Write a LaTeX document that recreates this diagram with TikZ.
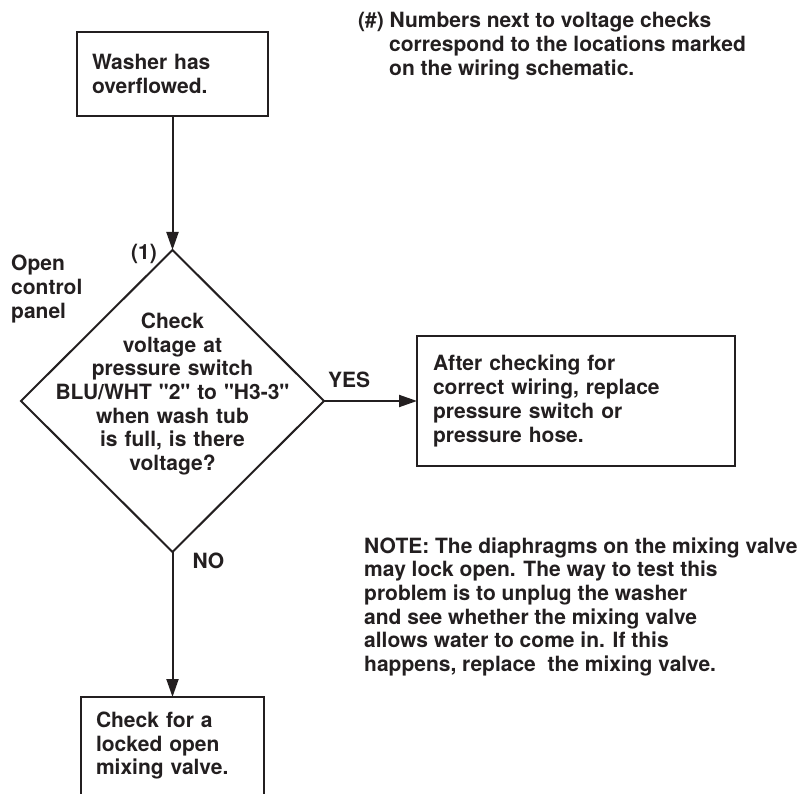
\documentclass[tikz,border=0pt]{standalone}
\usepackage{fontspec}
\setmainfont{TeX Gyre Heros}[Ligatures=TeXOff]
\usetikzlibrary{arrows.meta,positioning,shapes.geometric}
\definecolor{ink}{HTML}{231F20}
\begin{document}
\begin{tikzpicture}[x=1pt, y=-1pt, >={Triangle[length=18pt,width=12pt]}, color=ink, font=\fontsize{21pt}{23.7pt}\selectfont\bfseries]
        \tikzset{box/.style={rectangle, draw, line width=2pt, outer sep=0pt, inner xsep=15pt, align=left},
                 decision/.style={diamond, draw, line width=2pt, outer sep=0pt, inner sep=0pt, minimum width=303pt, minimum height=302pt},
                 question/.style={align=center, text width=280pt, inner sep=0pt},
                 tag/.style={inner sep=0pt, align=left}}
        \path[use as bounding box, clip] (0,0) rectangle (807,794);
        \node[box, text width=161pt, minimum height=84pt, anchor=north west] (washer) at (77,32) {Washer has\\overflowed.};
        \node[decision, below=134pt of washer] (check) {};
        \node[question] (ask) at ([yshift=7pt]check.center) {Check\\voltage at\\pressure switch\\BLU/WHT "2" to "H3-3"\\when wash tub\\is full, is there\\voltage?};
        \node[box, right=93pt of check, text width=286pt, inner xsep=16pt, minimum height=130pt] (fix) {After checking for\\correct wiring, replace\\pressure switch or\\pressure hose.};
        \node[box, below=145pt of check, text width=153pt, inner ysep=15pt, text depth=80pt] (mixing) {Check for a\\locked open\\mixing valve.};
        % multi-line tags sit on the baseline of their last line
        \node[tag, anchor=base east] (one) at (157,260) {(1)};
        \node[tag, anchor=base west] (panel) at (11,318.4) {Open\\control\\panel};
        \node[tag, anchor=base west] (hint) at (358,75.4) {(\#) Numbers next to voltage checks\\\hspace*{31pt}correspond to the locations marked\\\hspace*{31pt}on the wiring schematic.};
        \node[tag, anchor=base west] (note) at (364,671.5) {NOTE: The diaphragms on the mixing valve\\may lock open. The way to test this\\problem is to unplug the washer\\and see whether the mixing valve\\allows water to come in. If this\\happens, replace\ \ the mixing valve.};
        \draw[->, line width=2pt] (washer) -- (check);
        \draw[->, line width=2pt] (check) -- node[tag, above=12pt, pos=0.27]{YES} (fix);
        \draw[->, line width=2pt] (check) -- node[tag, right=19pt, pos=0.06]{NO} (mixing);
    \end{tikzpicture}
\end{document}
